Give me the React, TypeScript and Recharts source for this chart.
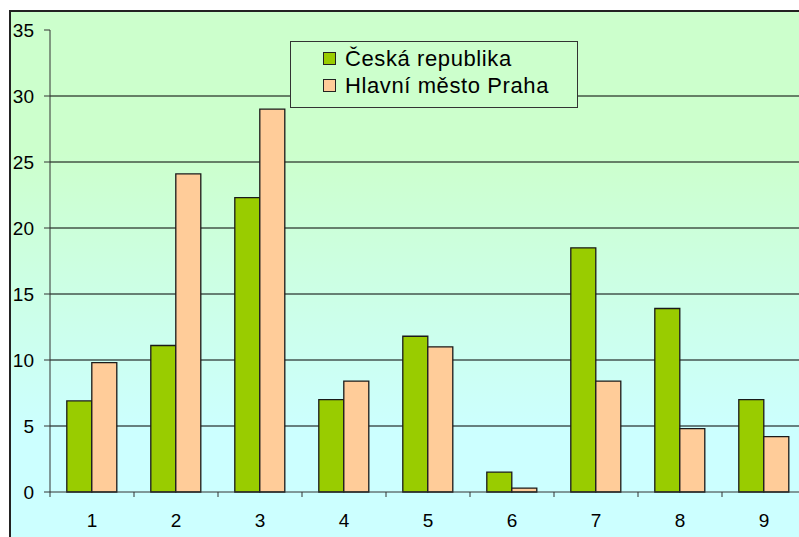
import React from 'react';
import { BarChart, Bar, XAxis, YAxis, CartesianGrid, Legend } from 'recharts';

const categories = ['1', '2', '3', '4', '5', '6', '7', '8', '9'];
const ceskaRepublika = [6.9, 11.1, 22.3, 7.0, 11.8, 1.5, 18.5, 13.9, 7.0];
const hlavniMestoPraha = [9.8, 24.1, 29.0, 8.4, 11.0, 0.3, 8.4, 4.8, 4.2];
const seriesNames = ['Česká republika', 'Hlavní město Praha'];
const seriesColors = ['#99cc00', '#ffcc99'];
const yTicks = [0, 5, 10, 15, 20, 25, 30, 35];
const gridValues = [5, 10, 15, 20, 25, 30];

const data = categories.map((c, i) => ({
  cat: c,
  cr: ceskaRepublika[i],
  praha: hlavniMestoPraha[i],
}));

const FONT = "Arial, 'Liberation Sans', sans-serif";

// tick marks sit between the categories, labels stay centred
const XTick = (props: any) => {
  const { x, y, payload } = props;
  const half = payload && payload.offset != null ? payload.offset : 42;
  return (
    <g>
      <line x1={x - half} x2={x - half} y1={y} y2={y + 5} stroke="#333" />
      <text x={x} y={y + 35} textAnchor="middle" fontSize={19} fontFamily={FONT} fill="#000">
        {payload.value}
      </text>
    </g>
  );
};

// keep series order (recharts 3 sorts legend items by name otherwise)
const LegendBox = () => (
  <div
    style={{
      width: '100%',
      height: '100%',
      boxSizing: 'border-box',
      border: '1px solid #333',
      background: '#ccffcc',
      paddingLeft: 32,
      paddingTop: 3,
      fontFamily: FONT,
      fontSize: 22,
      letterSpacing: 0.6,
      color: '#000',
    }}
  >
    {seriesNames.map((name, i) => (
      <div key={name} style={{ display: 'flex', alignItems: 'center', height: 27 }}>
        <span
          style={{
            display: 'inline-block',
            width: 11,
            height: 11,
            border: '1px solid #222',
            background: seriesColors[i],
            marginRight: 9,
          }}
        />
        <span>{name}</span>
      </div>
    ))}
  </div>
);

const App: React.FC = () => {
  return (
    <div
      style={{
        position: 'absolute',
        left: 0,
        top: 0,
        width: 799,
        height: 537,
        overflow: 'hidden',
        background: '#fff',
      }}
    >
      <div
        style={{
          position: 'absolute',
          left: 9,
          top: 10,
          width: 820,
          height: 560,
          borderLeft: '2px solid #222',
          borderTop: '2px solid #222',
          background: 'linear-gradient(to bottom, #ccffcc 0%, #ccffcc 25%, #ccffff 75%, #ccffff 100%)',
        }}
      />
      <div style={{ position: 'absolute', left: 0, top: 0 }}>
        <BarChart
          width={830}
          height={537}
          data={data}
          margin={{ top: 30, right: 24, bottom: 0, left: 0 }}
          barCategoryGap="20%"
          barGap={0}
        >
          <CartesianGrid
            vertical={false}
            horizontalValues={gridValues}
            stroke="#000"
            strokeWidth={1}
          />
          <XAxis
            dataKey="cat"
            height={45}
            axisLine={{ stroke: '#333' }}
            tickLine={false}
            tickSize={0}
            tickMargin={0}
            tick={<XTick />}
          />
          <YAxis
            width={50}
            domain={[0, 35]}
            ticks={yTicks}
            interval={0}
            axisLine={{ stroke: '#333' }}
            tickLine={{ stroke: '#333' }}
            tickSize={6}
            tickMargin={10}
            tick={{ fontSize: 19, fontFamily: FONT, fill: '#000' }}
          />
          <Legend
            layout="horizontal"
            verticalAlign="middle"
            align="center"
            content={<LegendBox />}
            wrapperStyle={{ position: 'absolute', left: 290, top: 41, width: 288, height: 67 }}
          />
          <Bar
            dataKey="cr"
            name={seriesNames[0]}
            fill={seriesColors[0]}
            stroke="#1a1a1a"
            strokeWidth={1.3}
            isAnimationActive={false}
          />
          <Bar
            dataKey="praha"
            name={seriesNames[1]}
            fill={seriesColors[1]}
            stroke="#1a1a1a"
            strokeWidth={1.3}
            isAnimationActive={false}
          />
        </BarChart>
      </div>
    </div>
  );
};

export default App;
